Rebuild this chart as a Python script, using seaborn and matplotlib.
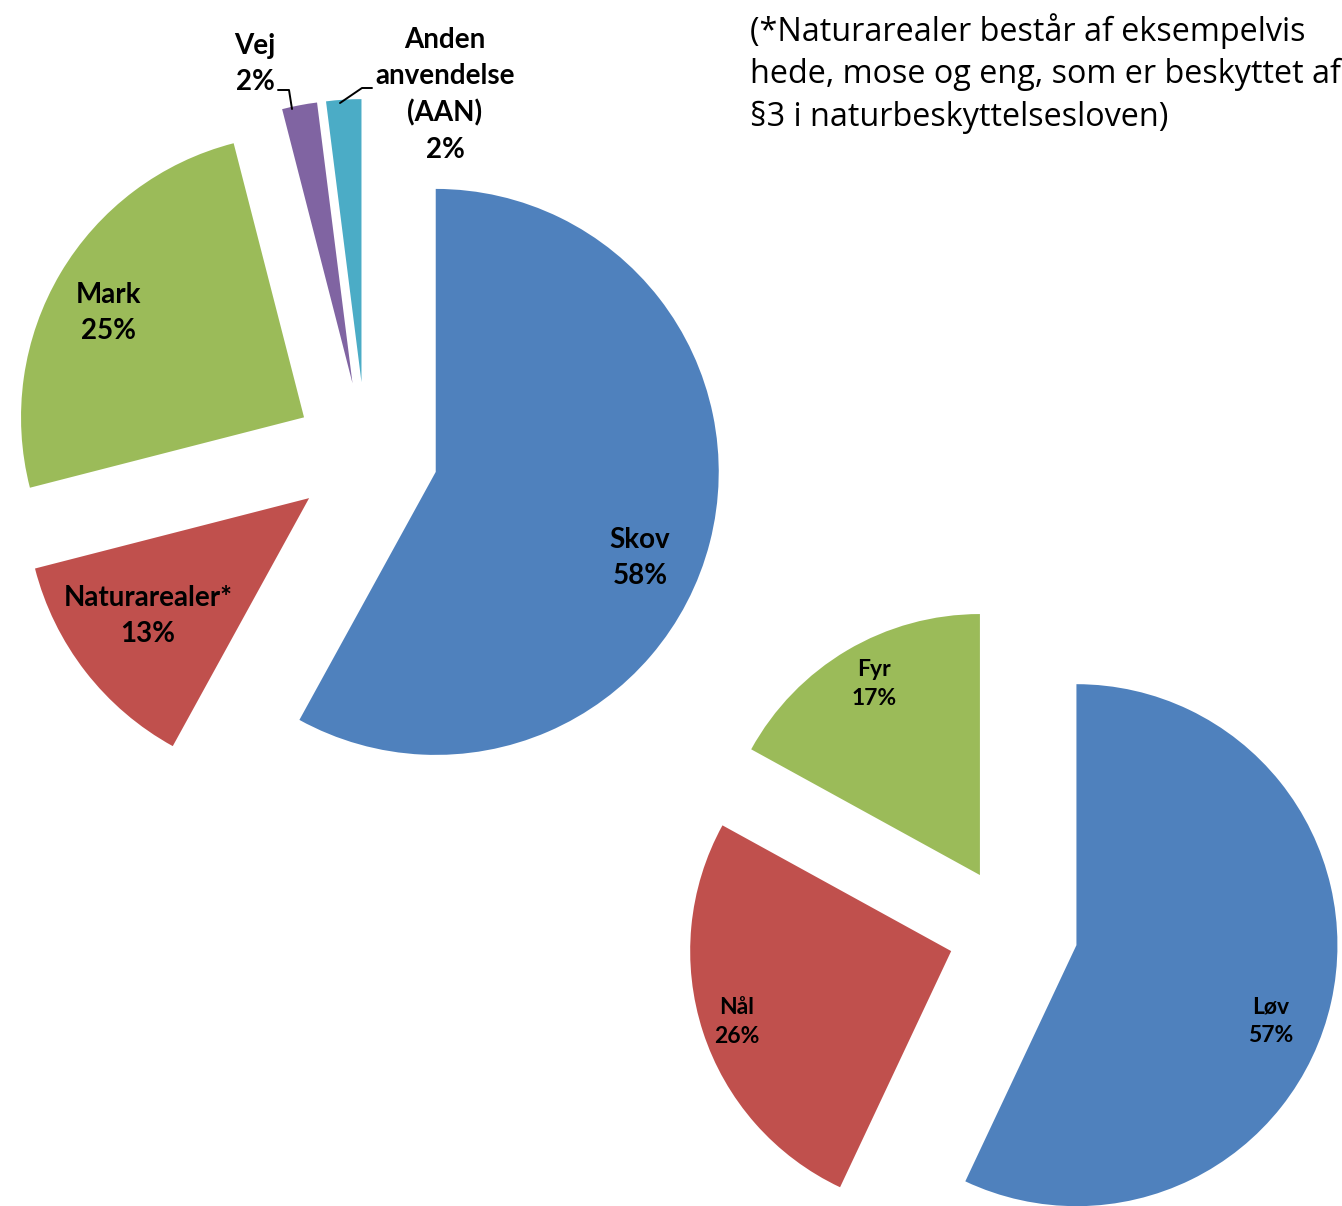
import matplotlib
matplotlib.use("Agg")
import matplotlib.pyplot as plt
import seaborn as sns

sns.set_theme(style="white")
plt.rcParams['font.family'] = ['Lato', 'DejaVu Sans']

# ---- data ----
labels_1 = ["Skov", "Naturarealer*", "Mark", "Vej", "Anden\nanvendelse\n(AAN)"]
values_1 = [58, 13, 25, 2, 2]
labels_2 = ["Løv", "Nål", "Fyr"]
values_2 = [57, 26, 17]
colors_1 = ["#4F81BD", "#C0504D", "#9BBB59", "#8064A2", "#4BACC6"]
colors_2 = ["#4F81BD", "#C0504D", "#9BBB59"]
note_text = ("(*Naturarealer består af eksempelvis\n"
             "hede, mose og eng, som er beskyttet af\n"
             "§3 i naturbeskyttelsesloven)")

# ---- layout (pixel space, y measured from top) ----
W, H = 1342, 1206
pie1_center, pie1_r, pie1_explode = (366, 454), 283, 72
pie2_center, pie2_r, pie2_explode = (1013, 931), 261, 65
label_pos_1 = [(640, 558), (148, 616), (108, 313), (255, 64), (445, 95)]
label_pos_2 = [(1271, 1021), (737, 1022), (874, 684)]

fig = plt.figure(figsize=(W / 100, H / 100), dpi=100)
ax = fig.add_axes([0, 0, 1, 1])

ax.pie(values_1, colors=colors_1, startangle=90, counterclock=False,
       explode=[pie1_explode] * len(values_1),
       center=(pie1_center[0], H - pie1_center[1]), radius=pie1_r,
       wedgeprops=dict(linewidth=0))
ax.pie(values_2, colors=colors_2, startangle=90, counterclock=False,
       explode=[pie2_explode] * len(values_2),
       center=(pie2_center[0], H - pie2_center[1]), radius=pie2_r,
       wedgeprops=dict(linewidth=0))

for lab, val, (x, y) in zip(labels_1, values_1, label_pos_1):
    ax.text(x, H - y, f"{lab}\n{val}%", ha="center", va="center",
            fontsize=20, fontweight="bold", color="black", linespacing=1.47)
for lab, val, (x, y) in zip(labels_2, values_2, label_pos_2):
    ax.text(x, H - y, f"{lab}\n{val}%", ha="center", va="center",
            fontsize=16.5, fontweight="bold", color="black", linespacing=1.47)

# leader lines for the small slices
ax.plot([278, 289, 292], [H - 90, H - 90, H - 109], color="black", lw=1.4)
ax.plot([372, 362, 340], [H - 88, H - 88, H - 103], color="black", lw=1.4)

ax.text(750, H - 13, note_text, ha="left", va="top", fontsize=23.3,
        color="black", linespacing=1.37, family=["Open Sans", "DejaVu Sans"])

ax.set_xlim(0, W)
ax.set_ylim(0, H)
ax.set_aspect("equal")
ax.axis("off")

fig.savefig("out.png", dpi=100, facecolor="white")
